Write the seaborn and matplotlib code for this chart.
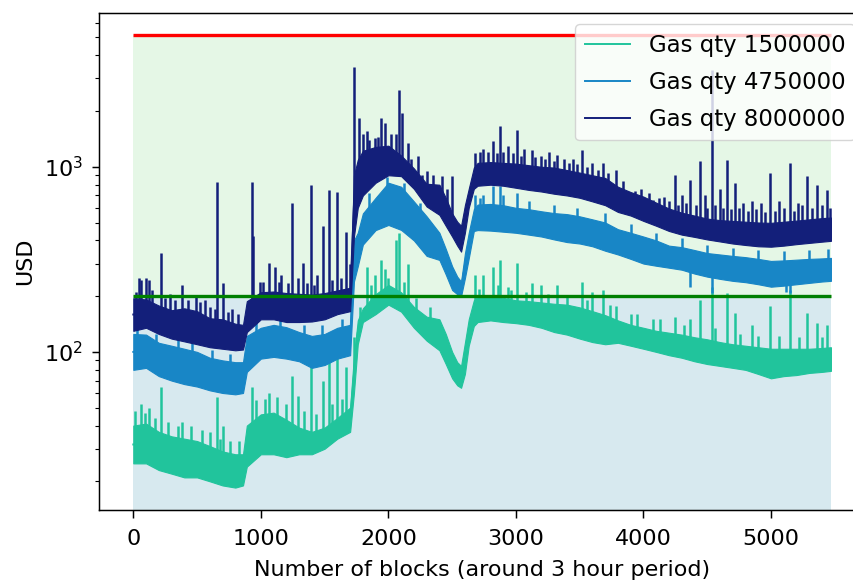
import numpy as np
import pandas as pd
import matplotlib
matplotlib.use("Agg")
import matplotlib.pyplot as plt
import seaborn as sns

# ---- data: per-block USD cost envelope (low / high) for each gas quantity ----
blocks = [0, 100, 200, 300, 400, 500, 600, 700, 800, 860, 890, 1000, 1100, 1200,
          1300, 1400, 1500, 1600, 1700, 1730, 1760, 1800, 1900, 2000, 2100, 2200,
          2300, 2400, 2450, 2500, 2540, 2570, 2600, 2630, 2670, 2700, 2800, 2900,
          3000, 3100, 3200, 3300, 3400, 3500, 3600, 3700, 3800, 3900, 4000, 4100,
          4200, 4300, 4400, 4500, 4600, 4700, 4800, 4900, 5000, 5100, 5200, 5300,
          5400, 5470]

low_1500000 = [25, 25, 23, 22, 21, 21, 20, 19, 18.5, 19, 24, 28, 28, 27,
               28, 28, 30, 34, 37, 60, 110, 145, 160, 180, 165, 135,
               115, 102, 86, 72, 66, 64, 76, 108, 138, 145, 148, 145,
               143, 140, 135, 128, 124, 118, 113, 110, 112, 108, 104, 100,
               96, 93, 89, 86, 84, 82, 80, 76, 72, 74, 75, 77,
               78, 79]
high_1500000 = [40, 41, 37, 35, 34, 33, 31, 29, 28, 28, 40, 46, 47, 43,
                39, 37, 39, 44, 50, 95, 148, 172, 205, 230, 210, 175,
                155, 150, 125, 100, 88, 84, 112, 150, 190, 198, 200, 196,
                190, 188, 185, 182, 180, 174, 166, 158, 148, 140, 135, 130,
                127, 124, 120, 117, 113, 110, 108, 106, 104, 104, 104, 104,
                105, 106]

low_4750000 = [80, 82, 74, 70, 67, 65, 62, 60, 59, 60, 78, 92, 94, 92,
               89, 82, 85, 92, 96, 240, 290, 380, 455, 485, 456, 400,
               330, 314, 262, 216, 205, 200, 250, 320, 450, 455, 452, 446,
               440, 430, 420, 405, 392, 385, 372, 352, 336, 318, 300, 292,
               285, 278, 265, 255, 248, 242, 238, 232, 225, 228, 232, 236,
               240, 242]
high_4750000 = [125, 124, 112, 108, 104, 100, 93, 90, 88, 88, 122, 135, 140, 136,
                128, 122, 125, 135, 140, 400, 440, 560, 680, 820, 780, 650,
                540, 440, 360, 290, 255, 240, 340, 440, 590, 625, 630, 620,
                600, 590, 575, 562, 555, 540, 520, 500, 460, 440, 420, 400,
                375, 368, 355, 342, 336, 330, 325, 318, 310, 312, 315, 318,
                320, 322]

low_8000000 = [130, 135, 125, 118, 114, 110, 106, 104, 102, 103, 128, 150, 150, 145,
               145, 146, 150, 160, 166, 420, 600, 700, 820, 900, 890, 760,
               610, 550, 480, 420, 375, 348, 440, 600, 760, 790, 800, 790,
               770, 750, 735, 715, 700, 680, 650, 620, 570, 545, 510, 480,
               450, 430, 418, 405, 395, 385, 378, 372, 370, 375, 382, 388,
               394, 398]
high_8000000 = [195, 192, 178, 168, 172, 166, 152, 150, 142, 140, 188, 210, 212, 208,
                206, 204, 208, 215, 222, 900, 1090, 1220, 1280, 1300, 1150, 980,
                810, 800, 680, 560, 505, 480, 620, 760, 990, 1050, 1060, 1050,
                1040, 1020, 1000, 990, 960, 930, 900, 870, 780, 730, 690, 640,
                595, 565, 545, 525, 515, 510, 505, 500, 498, 505, 512, 520,
                528, 532]

# ---- tall single-block spikes ----
spike_blocks_8000000 = [46, 64, 103, 124, 218, 290, 383, 495, 560, 655, 705, 770,
                        927, 940, 990, 1065, 1110, 1160, 1241, 1290, 1327, 1397,
                        1440, 1489, 1536, 1601, 1667, 1700, 1732, 1769, 1800, 1829,
                        1894, 1941, 1973, 2020, 2085, 2103, 2150, 2230, 2300, 2417,
                        2496, 2678, 2740, 2822, 2875, 2940, 3005, 3060, 3123, 3200,
                        3260, 3319, 3380, 3450, 3515, 3600, 3685, 3784, 3900, 3930,
                        4075, 4160, 4247, 4300, 4365, 4443, 4480, 4535, 4600, 4652,
                        4718, 4780, 4850, 4920, 4992, 5060, 5149, 5210, 5280, 5358,
                        5437]
spike_usd_8000000 = [250, 245, 250, 245, 343, 205, 230, 200, 190, 832, 237, 170,
                     832, 422, 240, 303, 289, 260, 637, 250, 302, 800,
                     260, 476, 751, 735, 447, 300, 3480, 1833, 1500, 1553,
                     1429, 1833, 1722, 1500, 2606, 1950, 1350, 1150, 950, 888,
                     888, 1180, 1250, 1371, 1651, 1300, 1585, 1250, 1236, 1150,
                     1200, 1161, 1100, 1100, 1236, 1050, 1050, 964, 721, 740,
                     664, 690, 906, 700, 851, 1069, 700, 3340, 760, 1091,
                     815, 640, 650, 640, 925, 650, 1047, 640, 888, 800,
                     750]

spike_blocks_4750000 = [2678, 2740, 2822, 2875, 3005]
spike_usd_4750000 = [700, 700, 783, 783, 721]
dip_blocks_4750000 = [4365, 4535, 5120, 5149]
dip_usd_4750000 = [225, 207, 210, 207]

spike_blocks_1500000 = [64, 124, 218, 383, 655, 705, 927, 1065, 1241, 1290, 1397,
                        1489, 1536, 1601, 1667, 1732, 1829, 1894, 1941, 1973, 2060,
                        2085, 2150, 2678, 2740, 2822, 2875, 2940, 3005, 3123, 3200,
                        3319, 3515, 3600, 3685, 3784, 3900, 4075, 4247, 4365, 4443,
                        4535, 4652, 4718, 4850, 4992, 5149, 5280, 5358, 5437]
spike_usd_1500000 = [52, 50, 65, 42, 57, 40, 65, 60, 74, 58, 98,
                     70, 102, 98, 83, 120, 289, 260, 314, 280, 400,
                     438, 300, 260, 260, 289, 314, 225, 302, 235, 230,
                     230, 240, 210, 215, 176, 160, 150, 155, 150, 191,
                     225, 207, 162, 140, 176, 216, 162, 143, 140]

# ---- short spikes along the top edge of each band ----
hair_blocks_8000000 = [20, 150, 250, 330, 430, 520, 600, 640, 740, 820, 1020, 1140,
                       1210, 1360, 1420, 1560, 1630, 1850, 1920, 2060, 2180, 2260,
                       2350, 2460, 2720, 2780, 2850, 2900, 2980, 3040, 3150, 3230,
                       3300, 3420, 3480, 3560, 3640, 3720, 3840, 3980, 4040, 4120,
                       4200, 4270, 4330, 4410, 4500, 4560, 4620, 4690, 4750, 4820,
                       4880, 4950, 5030, 5100, 5180, 5240, 5320, 5400, 5460]
hair_usd_8000000 = [210, 215, 195, 190, 190, 185, 175, 170, 165, 160, 240, 240,
                    235, 235, 230, 245, 250, 1400, 1450, 1500, 1100, 900,
                    900, 760, 1200, 1200, 1180, 1200, 1180, 1150, 1130, 1100,
                    1080, 1050, 1040, 1000, 960, 920, 840, 760, 720, 680,
                    650, 620, 640, 620, 600, 620, 600, 590, 600, 580,
                    590, 570, 580, 600, 580, 620, 600, 620, 600]

hair_blocks_4750000 = [30, 180, 350, 460, 620, 760, 960, 1150, 1340, 1480, 1640,
                       1850, 1990, 2120, 2250, 2720, 2900, 3100, 3300, 3480, 3700,
                       3900, 4100, 4300, 4500, 4700, 4900, 5100, 5300, 5450]
hair_usd_4750000 = [135, 125, 118, 112, 102, 98, 150, 152, 140, 140, 150,
                    720, 880, 820, 640, 680, 700, 650, 620, 600, 560,
                    490, 440, 410, 380, 365, 355, 350, 355, 360]

hair_blocks_1500000 = [10, 90, 170, 270, 350, 450, 540, 600, 680, 760, 830, 960,
                       1030, 1130, 1200, 1340, 1430, 1560, 1640, 1780, 1860, 2000,
                       2120, 2220, 2330, 2710, 2860, 2960, 3080, 3250, 3400, 3560,
                       3740, 3950, 4130, 4320, 4560, 4760, 4900, 5060, 5220, 5400]
hair_usd_1500000 = [48, 47, 44, 42, 40, 40, 38, 37, 34, 33, 33, 55,
                    56, 57, 52, 48, 46, 52, 56, 175, 230, 250,
                    240, 195, 175, 220, 230, 215, 210, 205, 200, 190,
                    180, 160, 150, 140, 135, 125, 122, 122, 120, 120]

upper_limit = 5170
lower_limit = 200

series_labels = ["Gas qty 1500000", "Gas qty 4750000", "Gas qty 8000000"]
series_colors = ["#21c49c", "#1886c6", "#131f7a"]

lows = [low_1500000, low_4750000, low_8000000]
highs = [high_1500000, high_4750000, high_8000000]
spike_blocks = [spike_blocks_1500000 + hair_blocks_1500000,
                spike_blocks_4750000 + hair_blocks_4750000,
                spike_blocks_8000000 + hair_blocks_8000000]
spike_usd = [spike_usd_1500000 + hair_usd_1500000,
             spike_usd_4750000 + hair_usd_4750000,
             spike_usd_8000000 + hair_usd_8000000]

# long-form table: two rows (low, high) per block, so the min-max band is the envelope
rows = []
for label, lo, hi in zip(series_labels, lows, highs):
    for b, l, h in zip(blocks, lo, hi):
        rows.append((b, l, label))
        rows.append((b, h, label))
df = pd.DataFrame(rows, columns=["block", "usd", "series"])

fig = plt.figure(figsize=(8.54, 5.82), dpi=100)
ax = fig.add_axes([99 / 854, 72 / 582, 767 / 854, 497 / 582])
ax.set_yscale("log")

# shaded regions
ax.fill_between([blocks[0], blocks[-1]], lower_limit, upper_limit,
                color="#e5f7e6", linewidth=0, zorder=0)
ax.fill_between([blocks[0], blocks[-1]], 1, lower_limit,
                color="#d7e9ef", linewidth=0, zorder=0)

for i, (label, color) in enumerate(zip(series_labels, series_colors)):
    z = 2 + 0.3 * i
    sub = df[df["series"] == label]
    sns.lineplot(data=sub, x="block", y="usd", color=color, label=label,
                 errorbar=("pi", 100),
                 err_kws={"alpha": 1, "linewidth": 0.8, "zorder": z},
                 linewidth=1.4, zorder=z + 0.1, ax=ax)
    centre = np.sqrt(np.array(lows[i], float) * np.array(highs[i], float))
    base = np.interp(spike_blocks[i], blocks, centre)
    ax.vlines(spike_blocks[i], base, spike_usd[i], color=color,
              linewidth=1.8, zorder=z + 0.2)
    if label == "Gas qty 4750000":
        dbase = np.interp(dip_blocks_4750000, blocks, centre)
        ax.vlines(dip_blocks_4750000, dip_usd_4750000, dbase, color=color,
                  linewidth=1.8, zorder=z + 0.2)

ax.hlines(upper_limit, blocks[0], blocks[-1], color="red", linewidth=2.4, zorder=4)
ax.hlines(lower_limit, blocks[0], blocks[-1], color="green", linewidth=2.4, zorder=4)

ax.set_xlim(-269, 5745)
ax.set_ylim(14.0, 6770)
ax.spines["right"].set_visible(False)

ax.set_xlabel("Number of blocks (around 3 hour period)", fontsize=16, labelpad=7.5)
ax.set_ylabel("USD", fontsize=16, labelpad=6.5)
ax.tick_params(axis="x", which="major", labelsize=16, length=5.5, width=1.07, pad=8.5)
ax.tick_params(axis="y", which="major", labelsize=16, length=5, width=1.07, pad=6.5)
ax.tick_params(axis="both", which="minor", length=2.8, width=0.8)
for s in ax.spines.values():
    s.set_linewidth(1.07)

ax.legend(loc="upper right", fontsize=16.5, labelspacing=0.62)

fig.savefig("out.png", dpi=100)
